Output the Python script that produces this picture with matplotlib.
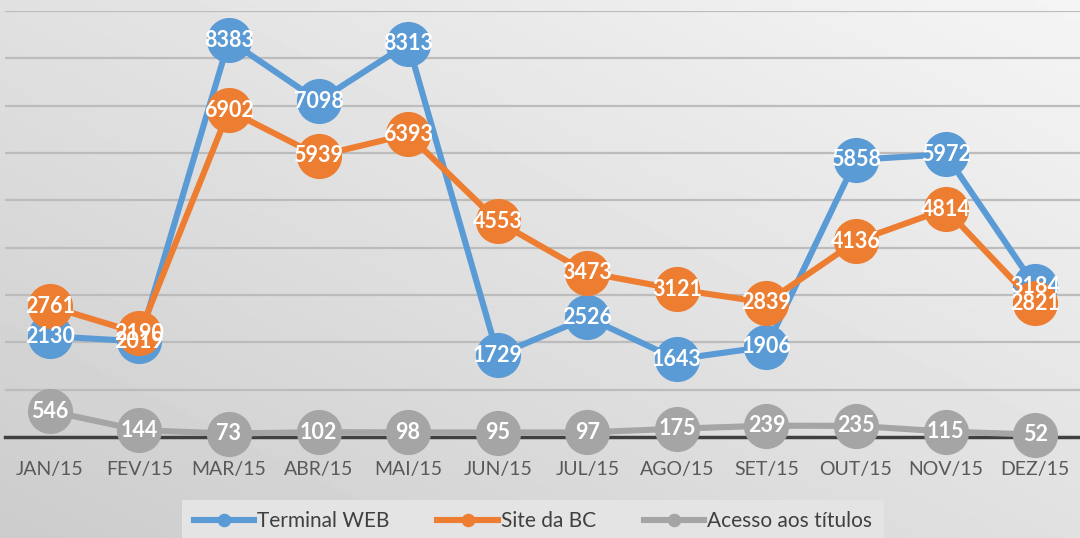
import matplotlib
matplotlib.use("Agg")
import matplotlib.pyplot as plt
import numpy as np

months = ["JAN/15", "FEV/15", "MAR/15", "ABR/15", "MAI/15", "JUN/15",
          "JUL/15", "AGO/15", "SET/15", "OUT/15", "NOV/15", "DEZ/15"]
terminal_web = [2130, 2019, 8383, 7098, 8313, 1729, 2526, 1643, 1906, 5858, 5972, 3184]
site_bc = [2761, 2190, 6902, 5939, 6393, 4553, 3473, 3121, 2839, 4136, 4814, 2821]
acesso_titulos = [546, 144, 73, 102, 98, 95, 97, 175, 239, 235, 115, 52]

series = [
    ("Terminal WEB", terminal_web, "#5B9BD5"),
    ("Site da BC", site_bc, "#ED7D31"),
    ("Acesso aos títulos", acesso_titulos, "#A5A5A5"),
]

plt.rcParams["font.family"] = ["Lato", "DejaVu Sans"]

fig = plt.figure(figsize=(10.8, 5.38), dpi=100)

# gradient background (lighter top-right, darker bottom-left)
bg = fig.add_axes([0, 0, 1, 1], zorder=-10)
gx, gy = np.meshgrid(np.linspace(0, 1, 300), np.linspace(0, 1, 150))
shade = 0.80 + 0.08 * gx + 0.08 * gy
bg.imshow(shade, cmap="gray", vmin=0, vmax=1, origin="lower",
          extent=[0, 1, 0, 1], aspect="auto")
bg.axis("off")

ax = fig.add_axes([5 / 1080, 101 / 538, 1075 / 1080, 426 / 538])
ax.set_facecolor("none")

x = np.arange(len(months))
for name, vals, color in series:
    ax.plot(x, vals, color=color, linewidth=4.4, marker="o", markersize=32.5,
            markeredgewidth=0, label=name, clip_on=False, zorder=3)

for name, vals, color in series:
    for xi, v in zip(x, vals):
        ax.text(xi, v, str(v), ha="center", va="center", color="white",
                fontsize=15.5, fontweight="bold", zorder=5)

ax.set_xlim(-0.5, len(months) - 0.5)
ax.set_ylim(0, 9000)
ax.set_yticks(np.arange(1000, 9001, 1000))
ax.yaxis.grid(True, color="#bcbcbc", linewidth=1.6)
ax.set_axisbelow(True)
ax.tick_params(axis="y", left=False, labelleft=False)
ax.set_xticks(x)
ax.set_xticklabels(months, fontsize=14, color="#595959")
ax.tick_params(axis="x", length=0, pad=17)
for side in ["top", "right", "left"]:
    ax.spines[side].set_visible(False)
ax.spines["bottom"].set_color("#404040")
ax.spines["bottom"].set_linewidth(2.5)
ax.spines["bottom"].set_zorder(2)

leg = fig.legend(loc="center", bbox_to_anchor=(533 / 1080, 17 / 538), ncol=3,
                 frameon=True, fontsize=15, handlelength=2.9, markerscale=0.3,
                 columnspacing=2.3, handletextpad=0.15, borderpad=0.55,
                 borderaxespad=0)
leg.get_frame().set_facecolor("#e4e4e4")
leg.get_frame().set_edgecolor("none")
leg.get_frame().set_alpha(1)
leg.get_frame().set_boxstyle("square", pad=0)
for t in leg.get_texts():
    t.set_color("#404040")

fig.savefig("out.png", dpi=100)
